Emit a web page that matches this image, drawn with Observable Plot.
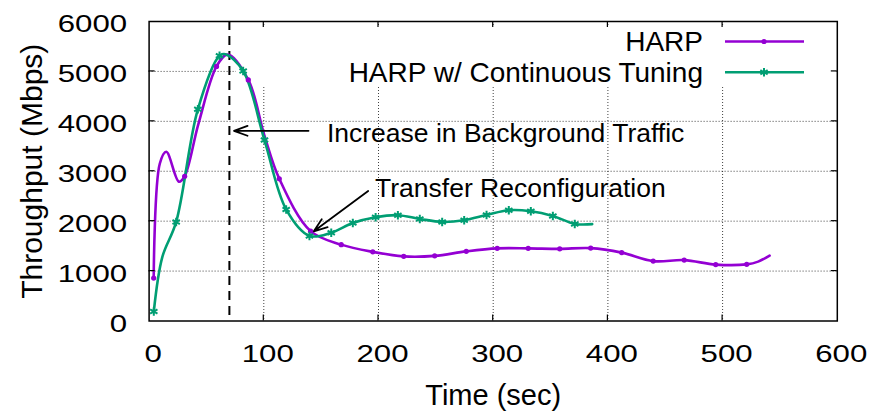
<!DOCTYPE html>
<html><head><meta charset="utf-8">
<script src="https://cdn.jsdelivr.net/npm/d3@7"></script>
<script src="https://cdn.jsdelivr.net/npm/@observablehq/plot@0.6"></script>
<style>html,body{margin:0;padding:0;background:#fff;} svg{display:block}</style>
</head><body><div id="chart"></div>
<script>
// ---- data ----
const xTicks = [0, 100, 200, 300, 400, 500, 600];
const yTicks = [0, 1000, 2000, 3000, 4000, 5000, 6000];
const seriesNames = ["HARP", "HARP w/ Continuous Tuning"];

const harpTime = [4, 9.3, 15, 26, 31, 43, 58.8, 68.5, 86.5, 100.5, 113.5, 140.8, 167.5, 195, 222, 249, 276.5, 303.5, 330.5, 358, 385, 412, 439.5, 466.5, 494, 521, 531, 541];
const harpThroughput = [860, 3150, 3390, 2790, 2900, 3950, 5100, 5340, 4830, 3720, 2850, 1800, 1530, 1385, 1295, 1305, 1395, 1455, 1455, 1445, 1460, 1370, 1200, 1220, 1130, 1135, 1190, 1310];
const harpMarked = [1, 0, 0, 0, 1, 0, 1, 0, 1, 0, 1, 1, 1, 1, 1, 1, 1, 1, 1, 1, 1, 1, 1, 1, 1, 1, 0, 0];

const tuningTime = [4.1, 11.5, 23.6, 42.5, 61.4, 66.5, 82, 100.6, 119.5, 139.8, 158.8, 177.6, 197.5, 216.9, 236, 255.5, 274.7, 294.2, 313.6, 332.8, 352, 371.1, 386.3];
const tuningThroughput = [190, 1280, 1985, 4240, 5315, 5345, 5010, 3625, 2235, 1705, 1770, 1965, 2080, 2120, 2045, 1985, 2020, 2125, 2220, 2200, 2105, 1945, 1940];
const tuningMarked = [1, 0, 1, 1, 1, 0, 1, 1, 1, 1, 1, 1, 1, 1, 1, 1, 1, 1, 1, 1, 1, 1, 0];

const eventTime = [70];
const noteText = ["Increase in Background Traffic", "Transfer Reconfiguration"];
const noteTime = [155, 197];
const noteValue = [3760, 2645];
const arrowFromTime = [139, 191];
const arrowFromValue = [3810, 2606];
const arrowToTime = [74, 143.6];
const arrowToValue = [3810, 1797];

// ---- build tables ----
const purple = "#9400d3", green = "#009e73";
const FONT = "'Liberation Sans', Arial, Helvetica, sans-serif";
const harp = harpTime.map((t, i) => ({t, v: harpThroughput[i], m: harpMarked[i]}));
const tuning = tuningTime.map((t, i) => ({t, v: tuningThroughput[i], m: tuningMarked[i]}));
const notes = noteText.map((s, i) => ({s, t: noteTime[i], v: noteValue[i]}));
const arrows = arrowFromTime.map((t, i) => ({t1: t, v1: arrowFromValue[i], t2: arrowToTime[i], v2: arrowToValue[i]}));

const plot = Plot.plot({
  width: 886, height: 413,
  marginLeft: 148.6, marginRight: 49.2, marginTop: 21, marginBottom: 92.5,
  style: {fontFamily: FONT, color: "#000", background: "#fff", overflow: "visible"},
  x: {domain: [0, 600]},
  y: {domain: [0, 6000]},
  marks: [
    Plot.ruleX(xTicks.slice(1, -1), {stroke: "#000", strokeOpacity: 0.75, strokeWidth: 1, strokeDasharray: "1,2"}),
    Plot.ruleY(yTicks.slice(1, -1), {stroke: "#000", strokeOpacity: 0.75, strokeWidth: 1, strokeDasharray: "1,2"}),
    Plot.ruleX(eventTime, {stroke: "#000", strokeWidth: 2, strokeDasharray: "9,6"}),
    Plot.line(harp, {x: "t", y: "v", stroke: purple, strokeWidth: 2.6, curve: "catmull-rom"}),
    Plot.line(tuning, {x: "t", y: "v", stroke: green, strokeWidth: 2.6, curve: "catmull-rom"}),
    Plot.dot(harp.filter(d => d.m), {x: "t", y: "v", r: 2.6, fill: purple, stroke: null}),
    Plot.dot(tuning.filter(d => d.m), {x: "t", y: "v", r: 4, symbol: "asterisk", stroke: green, strokeWidth: 2}),
    Plot.arrow(arrows, {x1: "t1", y1: "v1", x2: "t2", y2: "v2", stroke: "#000", strokeWidth: 1.8, headLength: 12, headAngle: 40}),
    Plot.text(notes, {x: "t", y: "v", text: "s", textAnchor: "start", lineAnchor: "middle", fontSize: 26.5, fill: "#000"}),
    Plot.axisX({ticks: xTicks, tickFormat: "d", tickSize: 0, tickPadding: 23.5, fontSize: 24, dx: 4, label: null}),
    Plot.axisY({ticks: yTicks, tickFormat: "d", tickSize: 0, tickPadding: 22, fontSize: 24, dy: 3, label: null}),
    Plot.text(["Time (sec)"], {text: d => d, frameAnchor: "bottom", textAnchor: "middle", lineAnchor: "middle", dy: 75, fontSize: 29, fill: "#000"}),
    Plot.text(["Throughput (Mbps)"], {text: d => d, frameAnchor: "left", textAnchor: "middle", lineAnchor: "middle", rotate: -90, dx: -116.6, fontSize: 30, fill: "#000"}),
    Plot.frame({stroke: "#000", strokeWidth: 1.5})
  ]
});

document.getElementById("chart").appendChild(plot);

// ---- post-processing: wide tick glyphs, key box, inward ticks, legend ----
const svg = d3.select(plot);
svg.selectAll('g[aria-label="x-axis tick label"] text, g[aria-label="y-axis tick label"] text')
  .attr("transform", function() { return (this.getAttribute("transform") || "") + " scale(1.3,1)"; });

const xs = plot.scale("x"), ys = plot.scale("y");
const L = xs.apply(0), R = xs.apply(600), B = ys.apply(0), T = ys.apply(6000);

// opaque key box behind the legend (gnuplot draws it over the grid)
const rules = svg.selectAll('g[aria-label="rule"]').nodes();
const box = document.createElementNS("http://www.w3.org/2000/svg", "rect");
box.setAttribute("x", 236); box.setAttribute("y", T + 4);
box.setAttribute("width", R - 1 - 236); box.setAttribute("height", 87 - (T + 4));
box.setAttribute("fill", "#fff");
rules[1].after(box);

// inward ticks on all four sides
const tk = svg.append("g").attr("stroke", "#000").attr("stroke-width", 1.2);
xTicks.slice(1, -1).forEach(v => {
  const x = xs.apply(v);
  tk.append("line").attr("x1", x).attr("x2", x).attr("y1", B).attr("y2", B - 6);
  tk.append("line").attr("x1", x).attr("x2", x).attr("y1", T).attr("y2", T + 6);
});
yTicks.slice(1, -1).forEach(v => {
  const y = ys.apply(v);
  tk.append("line").attr("x1", L).attr("x2", L + 6).attr("y1", y).attr("y2", y);
  tk.append("line").attr("x1", R).attr("x2", R - 6).attr("y1", y).attr("y2", y);
});

// legend
const leg = svg.append("g").attr("font-family", FONT).attr("font-size", 28);
const legY = [41.5, 72.3];
const legColor = [purple, green];
seriesNames.forEach((name, i) => {
  const y = legY[i];
  leg.append("text").attr("x", 703).attr("y", y).attr("dy", "0.35em").attr("text-anchor", "end").attr("fill", "#000").text(name);
  leg.append("line").attr("x1", 725).attr("x2", 804).attr("y1", y).attr("y2", y).attr("stroke", legColor[i]).attr("stroke-width", 2.6);
  if (i === 0) {
    leg.append("circle").attr("cx", 764).attr("cy", y).attr("r", 2.6).attr("fill", purple);
  } else {
    leg.append("path").attr("transform", `translate(764,${y})`)
      .attr("d", d3.symbol(d3.symbolAsterisk, Math.PI * 16)())
      .attr("stroke", green).attr("stroke-width", 2).attr("fill", "none");
  }
});
</script>
</body></html>
